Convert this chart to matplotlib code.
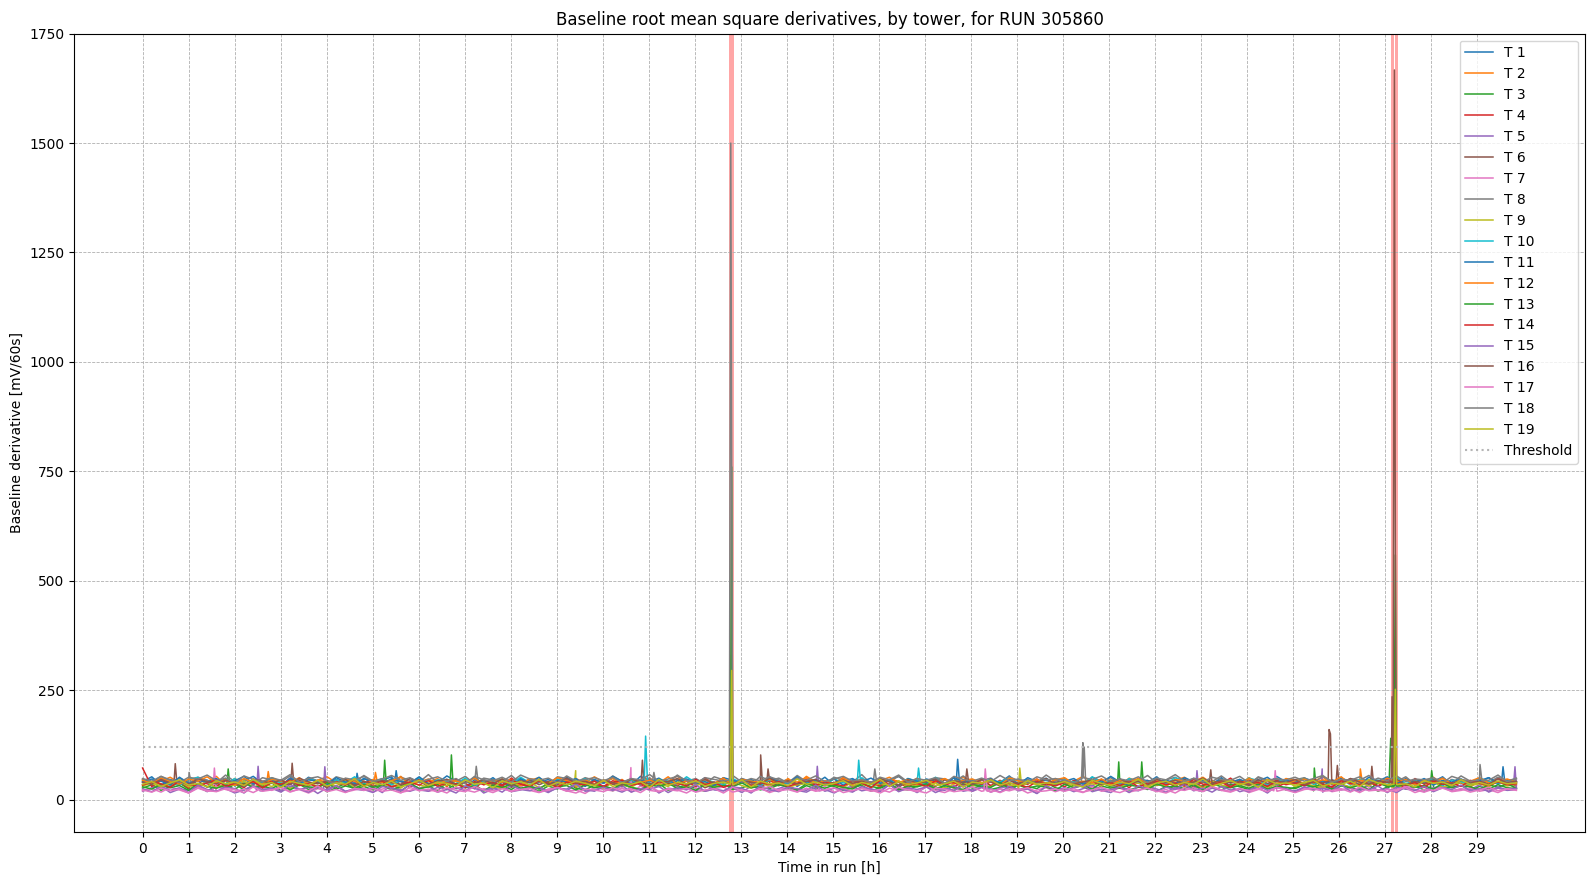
import numpy as np
import matplotlib
matplotlib.use('Agg')
import matplotlib.pyplot as plt

run_end = 29.85      # hours
threshold = 120
bad_windows = [(12.75, 12.86), (27.12, 27.195), (27.205, 27.28)]

tower_1 = [41, 52, 33, 46, 38, 29, 50, 44, 36, 48, 31, 43, 53, 37, 40, 30, 47, 35, 51, 42, 34, 45, 39, 28, 49,
           36, 44, 52, 31, 40, 47, 33, 38, 54, 42, 29, 45, 37, 50, 34, 43, 48, 32, 39, 46, 35, 51, 41, 30, 44,
           37, 49, 40, 33, 53, 45, 31, 38, 47, 42, 35, 50, 29, 43, 36, 48, 41, 34, 52, 39, 46, 30, 44, 37, 51,
           33, 42, 48, 36, 40, 29, 45, 53, 38, 34, 47, 41, 32, 50, 43, 37, 46, 31, 39, 54, 35, 44, 40, 49, 33,
           46, 38, 30, 51, 42, 36, 47, 34, 43, 39, 52, 31, 45, 37, 48, 41, 35, 50, 29, 44, 38, 46, 33, 53, 40,
           36, 49, 42, 31, 45, 39, 47, 34, 51, 43, 30, 38, 48, 36, 44, 41, 52, 33, 46, 37, 40, 50, 35, 42, 39]
tower_2 = [47, 35, 42, 51, 38, 30, 45, 40, 53, 33, 48, 36, 43, 29, 50, 41, 37, 46, 32, 44, 52, 39, 34, 49, 42,
           31, 46, 38, 53, 35, 43, 40, 48, 30, 45, 37, 51, 34, 42, 47, 39, 29, 44, 50, 36, 41, 33, 48, 38, 52,
           40, 35, 46, 31, 43, 49, 37, 42, 54, 33, 39, 45, 36, 50, 30, 47, 41, 38, 44, 32, 48, 35, 53, 40, 43,
           37, 51, 34, 46, 39, 29, 45, 42, 36, 49, 33, 41, 47, 38, 52, 31, 44, 40, 35, 50, 43, 37, 46, 30, 48,
           34, 42, 53, 39, 36, 45, 31, 49, 41, 38, 47, 33, 44, 51, 36, 40, 29, 46, 42, 35, 50, 38, 43, 32, 48,
           45, 37, 41, 52, 34, 39, 47, 30, 44, 36, 49, 42, 33, 46, 40, 51, 35, 38, 43, 31, 48, 41, 37, 45, 39]
tower_3 = [26, 34, 21, 30, 38, 24, 28, 19, 33, 27, 36, 22, 31, 25, 39, 20, 29, 35, 23, 32, 18, 27, 37, 24, 30,
           22, 33, 28, 19, 35, 26, 31, 21, 38, 25, 29, 34, 20, 27, 32, 23, 36, 28, 19, 31, 24, 40, 26, 22, 33,
           29, 20, 35, 27, 24, 31, 37, 21, 28, 33, 25, 19, 30, 36, 23, 27, 34, 22, 29, 38, 26, 20, 32, 24, 35,
           30, 21, 27, 33, 19, 28, 36, 25, 22, 31, 34, 24, 29, 20, 37, 26, 32, 23, 28, 35, 21, 30, 25, 39, 27,
           23, 34, 29, 20, 31, 26, 36, 22, 28, 33, 19, 30, 25, 37, 24, 32, 27, 21, 35, 29, 23, 31, 26, 38, 22,
           28, 34, 20, 30, 25, 36, 27, 23, 33, 19, 29, 35, 24, 31, 22, 37, 26, 28, 32, 21, 30, 24, 34, 27, 25]
tower_4 = [72, 29, 45, 34, 41, 26, 48, 36, 31, 43, 39, 27, 46, 35, 42, 30, 49, 37, 33, 44, 28, 40, 47, 32, 38,
           45, 30, 36, 42, 27, 48, 34, 39, 31, 46, 37, 25, 43, 40, 33, 49, 35, 29, 44, 38, 32, 47, 28, 41, 36,
           30, 43, 37, 48, 33, 26, 45, 39, 35, 42, 29, 50, 34, 40, 31, 46, 38, 27, 44, 36, 41, 33, 47, 30, 39,
           35, 48, 28, 42, 37, 31, 45, 40, 26, 43, 34, 49, 36, 29, 41, 38, 46, 32, 44, 27, 39, 35, 47, 33, 40,
           29, 44, 38, 31, 46, 35, 42, 27, 48, 37, 33, 40, 30, 45, 39, 28, 43, 36, 49, 32, 41, 34, 46, 29, 38,
           42, 31, 47, 36, 28, 44, 39, 33, 45, 30, 41, 37, 26, 48, 35, 40, 32, 46, 38, 29, 43, 34, 50, 36, 31]
tower_5 = [19, 27, 31, 16, 24, 21, 34, 18, 29, 25, 15, 22, 33, 20, 26, 17, 30, 23, 28, 14, 25, 32, 19, 24, 21,
           28, 16, 35, 22, 19, 26, 30, 17, 23, 27, 20, 33, 15, 24, 29, 18, 22, 31, 25, 16, 28, 20, 34, 23, 19,
           30, 24, 17, 27, 21, 32, 15, 26, 23, 29, 18, 35, 22, 20, 27, 16, 31, 24, 19, 25, 33, 21, 17, 28, 23,
           15, 26, 30, 20, 24, 18, 34, 22, 27, 16, 29, 25, 21, 32, 19, 23, 28, 17, 26, 31, 20, 24, 14, 30, 22,
           27, 18, 25, 33, 21, 16, 29, 23, 20, 31, 24, 17, 28, 22, 35, 19, 26, 21, 30, 18, 24, 27, 15, 32, 23,
           20, 28, 24, 17, 31, 22, 26, 19, 33, 21, 25, 16, 29, 23, 18, 27, 30, 20, 24, 22, 34, 17, 26, 21, 25]
tower_6 = [34, 41, 29, 45, 37, 32, 43, 28, 39, 46, 35, 30, 42, 38, 47, 31, 36, 44, 33, 40, 27, 45, 37, 34, 42,
           30, 39, 46, 32, 36, 43, 29, 41, 38, 35, 47, 31, 44, 33, 40, 28, 37, 45, 34, 42, 30, 39, 36, 48, 32,
           43, 35, 29, 41, 38, 46, 33, 37, 31, 44, 40, 27, 36, 42, 34, 47, 30, 39, 45, 32, 38, 35, 43, 29, 41,
           37, 44, 31, 36, 40, 33, 46, 28, 42, 38, 35, 30, 45, 39, 34, 41, 29, 43, 36, 47, 32, 37, 40, 31, 44,
           35, 42, 30, 38, 46, 33, 29, 41, 37, 44, 32, 39, 35, 47, 28, 40, 36, 43, 31, 38, 45, 34, 30, 42, 37,
           39, 33, 46, 29, 40, 36, 43, 32, 38, 44, 30, 41, 35, 28, 45, 37, 42, 31, 39, 34, 47, 33, 40, 36, 38]
tower_7 = [20, 25, 17, 28, 22, 15, 26, 19, 30, 23, 18, 24, 16, 27, 21, 29, 19, 23, 15, 25, 20, 31, 17, 22, 26,
           18, 24, 28, 16, 21, 27, 19, 23, 15, 29, 22, 17, 25, 20, 26, 18, 30, 21, 16, 24, 27, 19, 22, 14, 28,
           23, 20, 26, 17, 31, 21, 18, 25, 22, 15, 27, 19, 24, 29, 17, 22, 20, 26, 16, 23, 28, 18, 25, 21, 30,
           17, 24, 19, 27, 22, 15, 26, 20, 23, 18, 29, 21, 16, 25, 23, 19, 28, 17, 24, 20, 26, 15, 22, 27, 18,
           25, 21, 16, 29, 19, 23, 26, 17, 22, 28, 20, 15, 24, 21, 27, 18, 30, 22, 19, 25, 16, 23, 28, 20, 24,
           17, 26, 21, 29, 18, 22, 25, 16, 27, 20, 23, 19, 31, 22, 17, 24, 28, 18, 21, 26, 19, 23, 16, 25, 22]
tower_8 = [46, 39, 53, 42, 48, 35, 51, 44, 38, 56, 41, 47, 33, 50, 45, 40, 54, 37, 49, 43, 36, 52, 46, 39, 55,
           42, 48, 34, 51, 44, 40, 57, 38, 46, 42, 53, 36, 49, 45, 41, 55, 37, 47, 43, 35, 52, 48, 39, 50, 44,
           38, 54, 41, 46, 33, 50, 44, 39, 56, 42, 48, 36, 52, 45, 40, 47, 34, 53, 43, 49, 38, 55, 41, 46, 37,
           51, 44, 40, 57, 36, 48, 42, 53, 39, 45, 35, 50, 47, 41, 54, 38, 44, 49, 34, 52, 43, 46, 39, 56, 42,
           48, 37, 53, 44, 40, 50, 35, 47, 42, 55, 38, 45, 51, 36, 49, 43, 41, 54, 39, 46, 33, 52, 44, 48, 40,
           45, 50, 38, 53, 42, 36, 48, 44, 55, 39, 47, 41, 52, 35, 46, 43, 50, 37, 54, 42, 45, 39, 51, 44, 47]
tower_9 = [31, 38, 27, 35, 42, 29, 34, 40, 26, 37, 32, 43, 28, 36, 30, 39, 25, 33, 41, 29, 36, 31, 44, 27, 34,
           38, 30, 35, 26, 41, 33, 29, 37, 32, 42, 28, 35, 39, 31, 25, 36, 33, 40, 27, 34, 30, 43, 29, 37, 32,
           26, 39, 34, 28, 41, 31, 36, 30, 44, 27, 33, 38, 29, 35, 40, 32, 26, 37, 31, 42, 28, 34, 36, 30, 39,
           33, 27, 41, 35, 29, 37, 32, 43, 28, 34, 30, 38, 26, 36, 40, 31, 35, 29, 42, 33, 27, 39, 34, 30, 37,
           41, 28, 33, 36, 31, 44, 29, 35, 38, 27, 34, 32, 40, 30, 37, 26, 42, 33, 29, 36, 31, 39, 28, 35, 43,
           30, 36, 32, 27, 40, 34, 29, 38, 31, 43, 33, 26, 37, 35, 30, 41, 28, 34, 39, 32, 36, 29, 42, 31, 35]
tower_10 = [43, 36, 49, 40, 33, 46, 51, 38, 42, 35, 48, 31, 44, 39, 50, 37, 41, 34, 47, 42, 32, 45, 39, 52, 36,
            40, 47, 34, 43, 38, 50, 33, 45, 41, 36, 49, 30, 44, 40, 46, 35, 51, 38, 42, 33, 47, 43, 37, 48, 34,
            41, 50, 36, 44, 39, 32, 47, 42, 35, 52, 38, 45, 40, 33, 48, 37, 43, 31, 46, 41, 36, 49, 39, 44, 34,
            47, 38, 42, 50, 35, 40, 45, 33, 48, 41, 37, 51, 36, 43, 39, 46, 32, 44, 40, 49, 35, 42, 38, 47, 34,
            45, 40, 36, 52, 39, 43, 33, 48, 41, 37, 46, 35, 50, 42, 38, 44, 31, 47, 40, 36, 49, 43, 34, 45, 39,
            42, 48, 35, 41, 37, 50, 33, 46, 40, 44, 38, 51, 36, 43, 39, 47, 32, 45, 41, 35, 49, 42, 37, 44, 40]
tower_11 = [39, 47, 42, 33, 51, 37, 44, 40, 48, 35, 43, 53, 36, 41, 46, 31, 49, 38, 45, 42, 34, 50, 40, 37, 47,
            44, 32, 48, 41, 38, 52, 36, 43, 46, 34, 40, 49, 37, 45, 42, 30, 47, 39, 51, 35, 44, 41, 48, 33, 46,
            38, 53, 42, 36, 45, 40, 49, 34, 43, 47, 37, 41, 32, 50, 44, 39, 46, 35, 48, 42, 38, 52, 36, 43, 40,
            47, 33, 45, 41, 49, 37, 44, 31, 48, 42, 39, 46, 35, 51, 40, 43, 36, 47, 38, 45, 34, 50, 41, 44, 37,
            42, 48, 35, 46, 39, 53, 40, 33, 47, 43, 38, 45, 36, 50, 41, 44, 32, 48, 39, 46, 37, 42, 51, 35, 44,
            40, 47, 38, 43, 36, 49, 41, 34, 46, 42, 52, 37, 45, 39, 48, 33, 44, 40, 47, 36, 43, 50, 38, 45, 41]
tower_12 = [44, 37, 49, 41, 35, 47, 42, 52, 38, 45, 33, 48, 40, 36, 46, 43, 39, 50, 34, 44, 41, 37, 48, 42, 31,
            46, 39, 43, 51, 36, 40, 47, 34, 45, 42, 38, 49, 35, 44, 40, 46, 32, 48, 41, 37, 50, 43, 39, 45, 36,
            42, 48, 34, 47, 40, 44, 38, 52, 35, 43, 41, 46, 37, 49, 33, 45, 42, 39, 47, 36, 44, 40, 50, 38, 43,
            35, 48, 41, 45, 37, 43, 51, 39, 46, 34, 42, 40, 48, 36, 44, 47, 38, 41, 33, 49, 43, 40, 46, 37, 45,
            50, 36, 42, 39, 47, 34, 44, 41, 48, 38, 45, 32, 46, 43, 40, 51, 37, 42, 44, 35, 48, 39, 46, 41, 36,
            43, 47, 38, 45, 40, 52, 35, 44, 42, 37, 49, 41, 46, 34, 43, 39, 48, 36, 45, 42, 50, 38, 41, 47, 40]
tower_13 = [29, 24, 35, 27, 32, 21, 37, 30, 26, 33, 23, 38, 28, 31, 25, 36, 22, 34, 29, 27, 39, 24, 31, 26, 35,
            28, 33, 22, 30, 37, 25, 29, 34, 23, 36, 27, 31, 20, 33, 28, 35, 26, 30, 24, 38, 29, 32, 22, 34, 27,
            31, 25, 36, 28, 23, 33, 30, 37, 26, 29, 21, 35, 28, 32, 24, 38, 27, 30, 25, 34, 29, 22, 36, 31, 26,
            33, 28, 24, 37, 30, 26, 34, 22, 31, 29, 36, 25, 32, 27, 23, 35, 30, 28, 39, 24, 33, 26, 31, 29, 21,
            35, 27, 32, 24, 38, 29, 26, 33, 30, 23, 36, 28, 31, 25, 34, 22, 37, 29, 27, 32, 26, 35, 24, 30, 28,
            25, 34, 29, 36, 23, 31, 27, 33, 22, 38, 30, 26, 35, 28, 32, 24, 37, 27, 31, 29, 23, 34, 28, 36, 26]
tower_14 = [33, 40, 36, 28, 43, 35, 31, 38, 45, 30, 37, 34, 41, 27, 39, 35, 44, 32, 36, 29, 42, 38, 33, 46, 31,
            37, 42, 29, 35, 40, 33, 44, 30, 38, 36, 27, 41, 34, 39, 31, 45, 35, 32, 43, 37, 28, 40, 36, 34, 42,
            30, 39, 44, 33, 37, 29, 41, 35, 38, 31, 46, 34, 40, 28, 36, 43, 32, 38, 35, 41, 30, 37, 45, 33, 39,
            36, 31, 42, 38, 27, 44, 34, 40, 33, 37, 30, 43, 36, 39, 29, 41, 35, 45, 32, 38, 34, 28, 42, 37, 31,
            40, 35, 30, 44, 36, 39, 32, 43, 29, 37, 41, 34, 38, 31, 46, 35, 33, 40, 28, 42, 36, 39, 30, 44, 34,
            38, 32, 41, 35, 29, 43, 37, 34, 40, 31, 45, 36, 33, 39, 28, 42, 35, 38, 30, 44, 37, 32, 41, 34, 36]
tower_15 = [24, 18, 30, 21, 27, 16, 33, 23, 19, 28, 25, 15, 31, 22, 26, 20, 35, 24, 17, 29, 21, 32, 18, 25, 23,
            16, 30, 26, 20, 34, 22, 19, 28, 24, 15, 31, 25, 21, 27, 17, 33, 23, 20, 29, 18, 26, 24, 36, 19, 22,
            28, 21, 32, 17, 25, 23, 30, 16, 27, 22, 34, 19, 24, 20, 29, 26, 15, 31, 23, 18, 28, 25, 21, 33, 19,
            26, 22, 17, 30, 24, 20, 35, 18, 27, 23, 29, 16, 25, 21, 32, 19, 28, 24, 17, 30, 22, 26, 14, 31, 23,
            20, 27, 33, 18, 24, 22, 29, 16, 31, 25, 19, 28, 23, 35, 20, 26, 17, 30, 22, 24, 18, 32, 21, 27, 25,
            17, 29, 23, 26, 20, 34, 19, 25, 22, 31, 16, 28, 24, 21, 30, 18, 27, 23, 33, 20, 25, 19, 29, 22, 26]
tower_16 = [40, 35, 46, 38, 43, 33, 48, 41, 36, 44, 39, 31, 47, 42, 37, 45, 34, 49, 40, 36, 43, 38, 46, 32, 41,
            37, 44, 39, 34, 48, 41, 35, 42, 46, 33, 40, 38, 45, 36, 47, 31, 43, 39, 44, 35, 41, 49, 37, 42, 34,
            45, 38, 33, 47, 40, 36, 43, 41, 48, 34, 39, 46, 37, 42, 32, 44, 40, 35, 49, 38, 43, 36, 41, 46, 33,
            39, 44, 37, 42, 35, 48, 40, 33, 45, 38, 41, 47, 36, 43, 39, 34, 46, 40, 31, 44, 37, 42, 38, 48, 35,
            43, 36, 40, 45, 34, 41, 47, 38, 42, 33, 46, 39, 44, 36, 40, 49, 35, 43, 38, 41, 32, 45, 37, 42, 39,
            46, 34, 41, 38, 44, 36, 48, 40, 35, 43, 39, 47, 33, 42, 37, 45, 40, 36, 44, 38, 41, 35, 47, 39, 42]
tower_17 = [22, 17, 26, 20, 24, 15, 28, 21, 18, 25, 23, 16, 29, 19, 22, 27, 17, 24, 20, 31, 18, 23, 16, 26, 21,
            25, 19, 22, 15, 28, 20, 24, 17, 27, 21, 18, 30, 22, 16, 25, 19, 23, 26, 17, 21, 28, 20, 15, 24, 22,
            18, 27, 21, 24, 16, 29, 19, 23, 20, 26, 17, 22, 25, 15, 28, 21, 18, 24, 30, 20, 23, 17, 26, 19, 22,
            27, 16, 21, 25, 19, 23, 17, 28, 22, 20, 15, 26, 24, 18, 21, 29, 19, 23, 16, 25, 22, 27, 18, 20, 24,
            19, 25, 17, 22, 28, 20, 16, 24, 21, 26, 18, 23, 15, 27, 22, 19, 30, 21, 17, 25, 20, 24, 18, 28, 22,
            16, 23, 26, 19, 21, 25, 17, 29, 20, 22, 18, 24, 27, 16, 23, 21, 26, 19, 25, 17, 22, 28, 20, 24, 21]
tower_18 = [48, 42, 53, 45, 39, 51, 47, 56, 43, 49, 38, 54, 46, 41, 50, 44, 57, 40, 48, 52, 43, 37, 49, 45, 53,
            41, 47, 55, 44, 50, 39, 46, 52, 42, 48, 36, 53, 45, 43, 51, 40, 56, 47, 44, 49, 38, 54, 42, 46, 50,
            43, 51, 39, 48, 45, 57, 41, 47, 53, 44, 37, 50, 46, 42, 55, 40, 48, 43, 52, 45, 38, 49, 44, 54, 41,
            47, 53, 42, 46, 39, 51, 45, 56, 40, 48, 44, 50, 37, 53, 46, 42, 49, 41, 55, 43, 47, 39, 52, 45, 48,
            44, 38, 50, 46, 54, 41, 47, 43, 52, 39, 49, 45, 57, 42, 48, 40, 51, 46, 44, 53, 38, 50, 43, 47, 45,
            51, 42, 48, 55, 40, 46, 44, 52, 39, 49, 43, 54, 41, 47, 45, 50, 38, 53, 46, 42, 48, 44, 56, 41, 49]
tower_19 = [35, 41, 30, 38, 45, 33, 37, 29, 43, 36, 40, 32, 46, 34, 39, 28, 42, 37, 33, 44, 31, 38, 35, 47, 30,
            39, 34, 42, 29, 36, 44, 32, 40, 37, 31, 45, 35, 38, 27, 43, 36, 41, 33, 46, 30, 39, 34, 42, 37, 32,
            44, 30, 38, 35, 41, 28, 46, 33, 39, 36, 43, 31, 37, 40, 34, 45, 29, 42, 36, 38, 32, 47, 35, 40, 33,
            37, 43, 31, 39, 35, 46, 30, 41, 34, 38, 44, 32, 36, 42, 29, 40, 37, 45, 33, 39, 31, 43, 35, 38, 36,
            41, 34, 29, 44, 37, 32, 40, 36, 46, 30, 38, 42, 33, 39, 35, 47, 31, 37, 43, 34, 40, 28, 45, 36, 38,
            33, 39, 44, 31, 37, 35, 42, 30, 46, 38, 34, 41, 36, 29, 43, 37, 40, 32, 45, 35, 39, 33, 42, 36, 38]

# short spikes (time [h], value) on top of the baseline
spikes = {
    1: [(4.64, 40), (4.66, 60), (4.70, 38), (5.48, 40), (5.51, 66), (5.55, 38),
        (17.68, 40), (17.71, 92), (17.75, 40), (29.53, 40), (29.56, 75), (29.60, 38)],
    2: [(2.70, 40), (2.73, 64), (2.77, 38), (5.03, 38), (5.06, 62), (5.10, 40),
        (26.43, 40), (26.46, 70), (26.50, 40)],
    3: [(1.83, 30), (1.86, 70), (1.90, 28), (5.23, 30), (5.26, 90), (5.30, 28),
        (6.68, 30), (6.71, 102), (6.75, 28), (21.18, 28), (21.21, 86), (21.25, 27),
        (21.68, 28), (21.71, 86), (21.75, 27), (25.43, 28), (25.46, 72), (25.50, 27),
        (27.08, 27), (27.12, 140), (27.16, 30), (27.98, 28), (28.01, 66), (28.05, 26)],
    4: [(12.76, 40), (12.79, 330), (12.83, 38)],
    5: [(2.48, 22), (2.51, 76), (2.55, 20), (3.93, 22), (3.96, 75), (4.00, 20),
        (14.63, 22), (14.66, 76), (14.70, 20), (22.88, 22), (22.91, 66), (22.95, 20),
        (25.60, 22), (25.63, 70), (25.67, 20), (29.78, 22), (29.82, 75)],
    6: [(0.68, 35), (0.71, 82), (0.75, 33), (3.22, 35), (3.25, 83), (3.29, 33),
        (10.83, 35), (10.86, 90), (10.90, 33), (13.40, 35), (13.43, 102), (13.47, 34),
        (13.56, 35), (13.59, 70), (13.63, 34), (25.76, 36), (25.78, 160), (25.81, 150),
        (25.84, 36), (25.93, 35), (25.96, 78), (26.00, 33), (26.68, 35), (26.71, 76),
        (26.75, 33), (27.13, 35), (27.15, 235), (27.17, 38)],
    7: [(1.53, 20), (1.56, 72), (1.60, 19), (10.58, 20), (10.61, 73), (10.65, 19),
        (24.58, 20), (24.61, 66), (24.65, 19)],
    8: [(0.98, 42), (1.01, 62), (1.05, 40), (7.22, 42), (7.25, 76), (7.29, 40),
        (11.08, 42), (11.11, 62), (11.15, 40), (15.88, 42), (15.91, 70), (15.95, 40),
        (20.40, 42), (20.43, 130), (20.46, 120), (20.49, 42)],
    9: [(9.38, 32), (9.41, 66), (9.45, 30), (19.03, 32), (19.06, 72), (19.10, 30)],
    10: [(10.90, 40), (10.93, 145), (10.97, 40), (15.53, 40), (15.56, 90), (15.60, 40),
         (16.83, 40), (16.86, 72), (16.90, 38)],
    13: [(12.77, 30), (12.80, 760), (12.83, 30), (27.19, 30), (27.22, 559), (27.25, 30)],
    16: [(17.88, 40), (17.91, 70), (17.95, 38), (23.18, 40), (23.21, 68), (23.25, 38),
         (27.17, 40), (27.20, 1667), (27.23, 40)],
    17: [(18.28, 20), (18.31, 70), (18.35, 19)],
    18: [(12.75, 45), (12.78, 1500), (12.82, 45), (29.03, 45), (29.06, 80), (29.10, 44)],
    19: [(12.77, 35), (12.80, 295), (12.84, 34), (27.19, 35), (27.22, 252), (27.25, 34)],
}

towers = [tower_1, tower_2, tower_3, tower_4, tower_5, tower_6, tower_7, tower_8,
          tower_9, tower_10, tower_11, tower_12, tower_13, tower_14, tower_15,
          tower_16, tower_17, tower_18, tower_19]

fig, ax = plt.subplots(figsize=(15.95, 8.86), dpi=100)
fig.subplots_adjust(left=0.0464, right=0.9937, top=0.962, bottom=0.061)

for t0, t1 in bad_windows:
    ax.axvspan(t0, t1, color='red', alpha=0.35, lw=0)

for i, vals in enumerate(towers, start=1):
    t = np.linspace(0, run_end, len(vals))
    v = np.array(vals, dtype=float)
    if i in spikes:
        st, sv = zip(*spikes[i])
        t = np.concatenate([t, st])
        v = np.concatenate([v, sv])
        order = np.argsort(t, kind='stable')
        t, v = t[order], v[order]
    ax.plot(t, v, lw=1.1, label=f'T {i}')

ax.plot([0, run_end], [threshold, threshold], ':', color='#b5b5b5', lw=1.5, label='Threshold')

ax.set_xticks(range(0, 30))
ax.set_yticks(range(0, 1751, 250))
ax.set_xlim(-1.49, 31.34)
ax.set_ylim(-74, 1750)
ax.grid(True, linestyle='--', linewidth=0.6, color='#b0b0b0')
ax.set_title('Baseline root mean square derivatives, by tower, for RUN 305860')
ax.set_xlabel('Time in run [h]')
ax.set_ylabel('Baseline derivative [mV/60s]')
ax.legend(loc='upper right')

plt.savefig('out.png')
